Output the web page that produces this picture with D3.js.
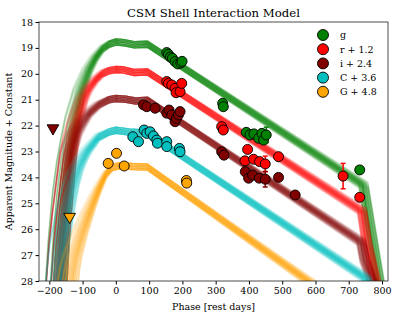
<!DOCTYPE html>
<html>
<head>
<meta charset="utf-8">
<script src="https://cdn.jsdelivr.net/npm/d3@7"></script>
<style>
  body { margin: 0; background: #fff; }
  svg { display: block; font-family: 'DejaVu Serif', serif; }
</style>
</head>
<body>
<div class="chart"></div>
<script>
// Paramètres de la visualisation
const width = 398;
const height = 318;
const margin = { top: 22, right: 10, bottom: 37, left: 39 };

// Bandes et couleurs (légende)
const bandLabels = ['g', 'r + 1.2', 'i + 2.4', 'C + 3.6', 'G + 4.8'];
const bandColors = ['#008000', '#ff0000', '#800000', '#00bfbf', '#ffa500'];

// Observations (phase en jours, magnitude apparente + constante, erreur)
const gPhase = [153, 158, 164, 170, 178, 186, 195, 199, 321, 323, 392, 403, 415, 429, 439, 444, 452, 733];
const gMag = [19.18, 19.25, 19.35, 19.40, 19.53, 19.62, 19.58, 19.52, 21.14, 21.27, 22.26, 22.36, 22.32, 22.49, 22.30, 22.56, 22.36, 23.71];
const gErr = [0, 0, 0, 0, 0, 0, 0, 0, 0, 0, 0, 0, 0, 0, 0, 0, 0.3, 0];

const rPhase = [153, 158, 168, 178, 181, 193, 198, 318, 323, 388, 396, 414, 432, 449, 489, 683, 733];
const rMag = [20.30, 20.37, 20.43, 20.56, 20.73, 20.69, 20.37, 22.04, 22.17, 23.36, 22.92, 23.30, 23.39, 23.48, 23.20, 23.95, 24.77];
const rErr = [0, 0, 0, 0, 0, 0, 0, 0, 0, 0, 0, 0, 0, 0.3, 0, 0.49, 0];

const iPhase = [83, 93, 118, 153, 160, 168, 178, 182, 188, 193, 318, 325, 389, 399, 411, 431, 449, 489, 539];
const iMag = [21.20, 21.27, 21.33, 21.52, 21.40, 21.59, 21.85, 21.72, 21.59, 21.46, 23.01, 23.14, 23.78, 24.03, 23.91, 24.03, 24.07, 24.00, 24.68];
const iErr = [0, 0, 0, 0, 0, 0, 0, 0, 0, 0.15, 0, 0, 0, 0, 0, 0, 0.3, 0, 0];

const cPhase = [51, 68, 85, 93, 103, 113, 123, 125, 153, 153, 191, 193];
const cMag = [22.43, 22.62, 22.17, 22.30, 22.24, 22.40, 22.56, 22.68, 22.62, 22.81, 22.88, 23.01];

const oPhase = [-23, 2, 25, 212, 213];
const oMag = [23.46, 23.07, 23.56, 24.12, 24.22];

// Limites supérieures (triangles)
const limPhase = [-189, -139];
const limMag = [22.10, 25.52];
const limBand = [2, 4];

// Modèle médian par bande : points clés [phase, magnitude]
const gModel = [[-168, 28.4], [-160, 26.4], [-150, 24.6], [-140, 23.4], [-130, 22.5], [-120, 21.7], [-100, 20.6], [-80, 19.9], [-60, 19.4], [-40, 19.05], [-20, 18.86], [0, 18.77], [25, 18.8], [55, 18.88], [95, 18.86], [742, 24.3], [760, 25.7], [795, 28.4]];
const rModel = [[-166, 28.4], [-158, 26.6], [-150, 25.4], [-135, 23.5], [-125, 22.5], [-115, 21.9], [-95, 21.0], [-80, 20.6], [-60, 20.25], [-40, 20.0], [-20, 19.88], [0, 19.83], [20, 19.84], [55, 19.95], [95, 19.93], [738, 25.3], [752, 26.5], [786, 28.4]];
const iModel = [[-166, 28.4], [-158, 26.6], [-150, 25.3], [-140, 24.0], [-132, 23.0], [-115, 22.3], [-100, 21.95], [-80, 21.55], [-50, 21.2], [-20, 21.0], [0, 20.95], [30, 20.98], [60, 21.05], [95, 21.02], [736, 26.5], [746, 27.2], [780, 28.4]];
const cModel = [[-168, 28.4], [-161, 27.2], [-155, 26.4], [-141, 25.3], [-125, 24.3], [-111, 23.7], [-95, 23.25], [-81, 22.95], [-51, 22.45], [-20, 22.25], [0, 22.18], [40, 22.25], [95, 22.3], [750, 27.9], [765, 28.4]];
const oModel = [[-134, 28.4], [-127, 27.6], [-120, 27.1], [-100, 26.2], [-81, 25.5], [-65, 24.95], [-51, 24.5], [-30, 23.9], [-10, 23.62], [10, 23.55], [50, 23.58], [95, 23.6], [620, 28.4]];

// Dispersion des échantillons MCMC
const riseShifts = [-45, -30, -22, -16, -11, -7, -3, 0, 3, 7, 12, 18];
const dropShifts = [14, -6, 8, -12, 2, 10, -3, 0, 5, -9, 16, -1];
const levelShifts = [-0.12, -0.06, 0, 0.06, 0.12];

// Graduations
const xTicks = [-200, -100, 0, 100, 200, 300, 400, 500, 600, 700, 800];
const yTicks = [18, 19, 20, 21, 22, 23, 24, 25, 26, 27, 28];

const observations = [
	{ phase: gPhase, mag: gMag, err: gErr },
	{ phase: rPhase, mag: rMag, err: rErr },
	{ phase: iPhase, mag: iMag, err: iErr },
	{ phase: cPhase, mag: cMag, err: cPhase.map(() => 0) },
	{ phase: oPhase, mag: oMag, err: oPhase.map(() => 0) },
];
const models = [gModel, rModel, iModel, cModel, oModel];

function draw() {
	const svg = d3.select('.chart')
		.append('svg')
		.attr('width', width)
		.attr('height', height);

	// Echelles
	const x = d3.scaleLinear()
		.domain([-231, 818])
		.range([margin.left, width - margin.right]);
	const y = d3.scaleLinear()
		.domain([18, 28])
		.range([margin.top, height - margin.bottom]);

	svg.append('clipPath')
		.attr('id', 'clip')
		.append('rect')
		.attr('x', margin.left)
		.attr('y', margin.top)
		.attr('width', width - margin.left - margin.right)
		.attr('height', height - margin.top - margin.bottom);

	// Courbes du modèle (échantillons)
	const line = d3.line()
		.x(d => x(d[0]))
		.y(d => y(d[1]));

	const modelGroup = svg.append('g').attr('clip-path', 'url(#clip)');
	models.forEach((model, b) => {
		const onset = model[0][0];
		const samples = [];
		riseShifts.forEach((r, i) => {
			levelShifts.forEach(l => {
				samples.push(model.map(([p, m]) => {
					let pp = p;
					if (p < 0) pp = p + r * (p / onset);
					else if (p > 600) pp = p + dropShifts[i];
					return [pp, m + l];
				}));
			});
		});
		modelGroup.append('g')
			.selectAll('path')
			.data(samples)
			.join('path')
				.attr('d', line)
				.attr('fill', 'none')
				.attr('stroke', bandColors[b])
				.attr('stroke-width', 1.3)
				.attr('stroke-linejoin', 'round')
				.attr('stroke-opacity', 0.13);
	});

	// Barres d'erreur
	const errGroup = svg.append('g');
	observations.forEach((obs, b) => {
		const pts = obs.phase.map((p, i) => ({ p, m: obs.mag[i], e: obs.err[i] })).filter(d => d.e > 0);
		const g = errGroup.append('g').selectAll('g').data(pts).join('g')
			.attr('stroke', bandColors[b])
			.attr('stroke-width', 1.5);
		g.append('line')
			.attr('x1', d => x(d.p)).attr('x2', d => x(d.p))
			.attr('y1', d => y(d.m - d.e)).attr('y2', d => y(d.m + d.e));
		g.append('line')
			.attr('x1', d => x(d.p) - 2.5).attr('x2', d => x(d.p) + 2.5)
			.attr('y1', d => y(d.m - d.e)).attr('y2', d => y(d.m - d.e));
		g.append('line')
			.attr('x1', d => x(d.p) - 2.5).attr('x2', d => x(d.p) + 2.5)
			.attr('y1', d => y(d.m + d.e)).attr('y2', d => y(d.m + d.e));
	});

	// Points observés
	observations.forEach((obs, b) => {
		svg.append('g')
			.selectAll('circle')
			.data(obs.phase.map((p, i) => [p, obs.mag[i]]))
			.join('circle')
				.attr('cx', d => x(d[0]))
				.attr('cy', d => y(d[1]))
				.attr('r', 5)
				.attr('fill', bandColors[b])
				.attr('stroke', '#000')
				.attr('stroke-width', 0.9);
	});

	// Limites supérieures
	const tri = d3.symbol().type(d3.symbolTriangle).size(60);
	svg.append('g')
		.selectAll('path')
		.data(limPhase.map((p, i) => [p, limMag[i], limBand[i]]))
		.join('path')
			.attr('d', tri)
			.attr('transform', d => `translate(${x(d[0])},${y(d[1])}) rotate(180)`)
			.attr('fill', d => bandColors[d[2]])
			.attr('stroke', '#000')
			.attr('stroke-width', 0.9);

	// Axes
	svg.append('g')
		.attr('transform', `translate(0,${height - margin.bottom})`)
		.call(d3.axisBottom(x).tickValues(xTicks).tickSize(3.5).tickPadding(2.5))
		.call(g => g.select('.domain').remove())
		.call(g => g.selectAll('text').attr('font-size', 9.5).attr('font-family', 'DejaVu Serif').attr('fill', '#000'));

	svg.append('g')
		.attr('transform', `translate(${margin.left},0)`)
		.call(d3.axisLeft(y).tickValues(yTicks).tickSize(3.5).tickPadding(2.5))
		.call(g => g.select('.domain').remove())
		.call(g => g.selectAll('text').attr('font-size', 9.5).attr('font-family', 'DejaVu Serif').attr('fill', '#000'));

	// Cadre
	svg.append('rect')
		.attr('x', margin.left)
		.attr('y', margin.top)
		.attr('width', width - margin.left - margin.right)
		.attr('height', height - margin.top - margin.bottom)
		.attr('fill', 'none')
		.attr('stroke', '#222')
		.attr('stroke-width', 0.8);

	// Titres
	svg.append('text')
		.attr('x', (margin.left + width - margin.right) / 2)
		.attr('y', 16.5)
		.attr('text-anchor', 'middle')
		.attr('font-size', 11.7)
		.text('CSM Shell Interaction Model');

	svg.append('text')
		.attr('x', (margin.left + width - margin.right) / 2)
		.attr('y', 310)
		.attr('text-anchor', 'middle')
		.attr('font-size', 9.5)
		.text('Phase [rest days]');

	svg.append('text')
		.attr('transform', `translate(12,${(margin.top + height - margin.bottom) / 2}) rotate(-90)`)
		.attr('text-anchor', 'middle')
		.attr('font-size', 9.5)
		.text('Apparent Magnitude + Constant');

	// Légende
	const legend = svg.append('g')
		.selectAll('g')
		.data(bandLabels)
		.join('g')
			.attr('transform', (d, i) => `translate(323,${35 + i * 14.2})`);
	legend.append('circle')
		.attr('r', 5.5)
		.attr('fill', (d, i) => bandColors[i])
		.attr('stroke', '#000')
		.attr('stroke-width', 0.9);
	legend.append('text')
		.attr('x', 17)
		.attr('dy', '0.35em')
		.attr('font-size', 9.5)
		.text(d => d);
}

draw();
</script>
</body>
</html>
